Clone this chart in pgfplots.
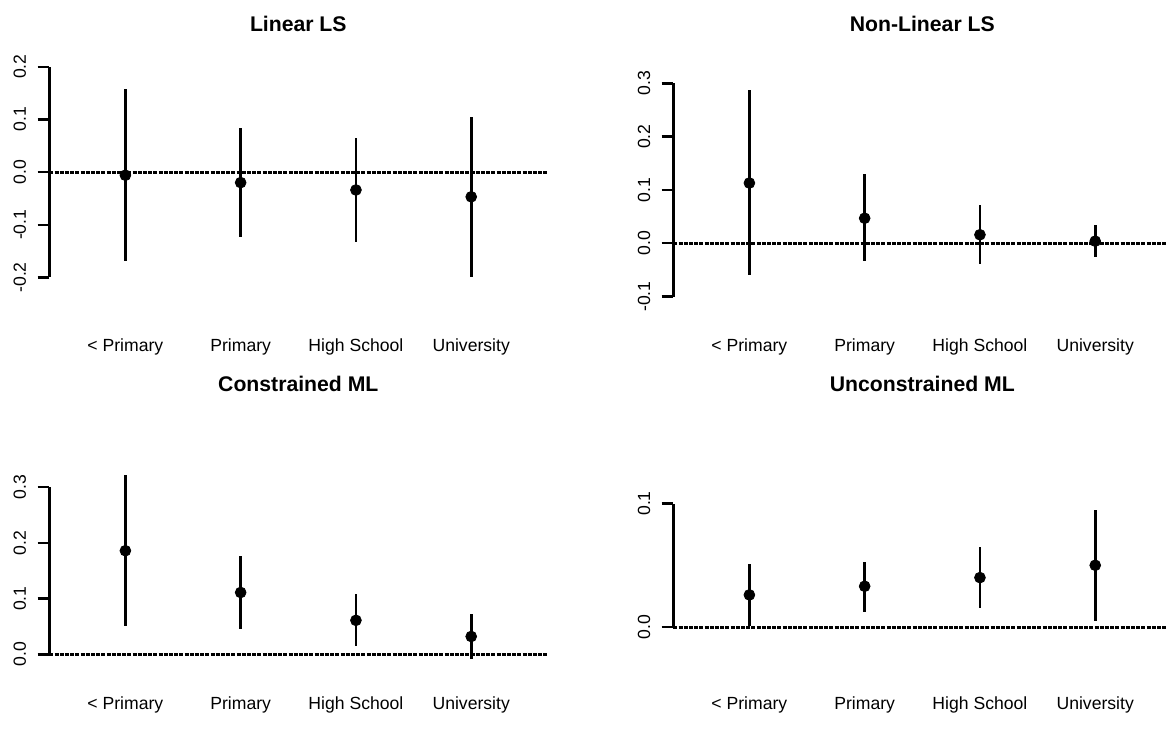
\documentclass[border=0pt]{standalone}
\usepackage{fontspec}
\setmainfont{Liberation Sans}
\usepackage{pgfplots}
\pgfplotsset{compat=1.18}
\pgfplotsset{
 rpanel/.style={
  scale only axis, width=249pt,
  xmin=0.34, xmax=4.66,
  axis x line*=bottom, axis y line*=left,
  x axis line style={draw=none},
  y axis line style={line width=1.2pt, -},
  xtick={1,2,3,4},
  xticklabels={{< Primary},{Primary},{High School},{University}},
  xtick style={draw=none},
  tick align=outside,
  ytick style={line width=1.2pt, black},
  major tick length=5.85pt,
  /pgf/number format/assume math mode=true,
  /pgf/number format/fixed, /pgf/number format/fixed zerofill,
  /pgf/number format/precision=1,
  tick label style={font=\fontsize{8.8}{10}\selectfont},
  yticklabel style={rotate=90, anchor=base, inner sep=0pt, yshift=5.8pt},
  title style={font=\bfseries\fontsize{10.6}{12}\selectfont, anchor=base, inner sep=0pt, at={(0.5,1)}},
  clip=false,
 },
 zl/.style={line width=1.5pt, dash pattern=on 2pt off 0.6pt, black},
 ci/.style={black, only marks, mark=*, mark size=2.7pt,
  error bars/.cd, y dir=both, y explicit, error mark=none,
  error bar style={line width=1.3pt, black}},
}
\begin{document}
\begin{tikzpicture}
\useasboundingbox (0,0) rectangle (583.5pt,-370pt);
\clip (0,0) rectangle (583.5pt,-370pt);
% Panel 1
\begin{axis}[rpanel, at={(24.65pt,-138.7pt)}, anchor=south west, height=105.35pt,
  ymin=-0.2, ymax=0.2, ytick={-0.2,-0.1,0,0.1,0.2},
  title={Linear LS}, title style={yshift=11.65pt},
  xticklabel style={anchor=base, inner sep=0pt, yshift=-31.3pt}]
\addplot[zl] coordinates {(0.34,0) (4.66,0)};
\addplot[ci] coordinates {
 (1,-0.006) += (0,0.164) -= (0,0.163)
 (2,-0.020) += (0,0.103) -= (0,0.104)
 (3,-0.034) += (0,0.098) -= (0,0.098)
 (4,-0.047) += (0,0.151) -= (0,0.153)
};
\end{axis}
% Panel 2
\begin{axis}[rpanel, at={(336.65pt,-148.3pt)}, anchor=south west, height=106.65pt,
  ymin=-0.1, ymax=0.3, ytick={-0.1,0,0.1,0.2,0.3},
  title={Non-Linear LS}, title style={yshift=19.95pt},
  xticklabel style={anchor=base, inner sep=0pt, yshift=-21.7pt}]
\addplot[zl] coordinates {(0.34,0) (4.66,0)};
\addplot[ci] coordinates {
 (1,0.113) += (0,0.175) -= (0,0.173)
 (2,0.047) += (0,0.083) -= (0,0.081)
 (3,0.016) += (0,0.056) -= (0,0.055)
 (4,0.004) += (0,0.031) -= (0,0.029)
};
\end{axis}
% Panel 3
\begin{axis}[rpanel, at={(24.65pt,-327.15pt)}, anchor=south west, height=83.55pt,
  ymin=0, ymax=0.3, ytick={0,0.1,0.2,0.3},
  title={Constrained ML}, title style={yshift=41.9pt},
  xticklabel style={anchor=base, inner sep=0pt, yshift=-21.5pt}]
\addplot[zl] coordinates {(0.34,0) (4.66,0)};
\addplot[ci] coordinates {
 (1,0.186) += (0,0.136) -= (0,0.135)
 (2,0.111) += (0,0.065) -= (0,0.065)
 (3,0.061) += (0,0.047) -= (0,0.046)
 (4,0.032) += (0,0.041) -= (0,0.040)
};
\end{axis}
% Panel 4
\begin{axis}[rpanel, at={(336.65pt,-313.5pt)}, anchor=south west, height=61.75pt,
  ymin=0, ymax=0.1, ytick={0,0.1},
  title={Unconstrained ML}, title style={yshift=50.05pt},
  xticklabel style={anchor=base, inner sep=0pt, yshift=-35.15pt}]
\addplot[zl] coordinates {(0.34,0) (4.66,0)};
\addplot[ci] coordinates {
 (1,0.026) += (0,0.025) -= (0,0.025)
 (2,0.033) += (0,0.020) -= (0,0.021)
 (3,0.040) += (0,0.025) -= (0,0.025)
 (4,0.050) += (0,0.045) -= (0,0.045)
};
\end{axis}
\end{tikzpicture}
\end{document}
